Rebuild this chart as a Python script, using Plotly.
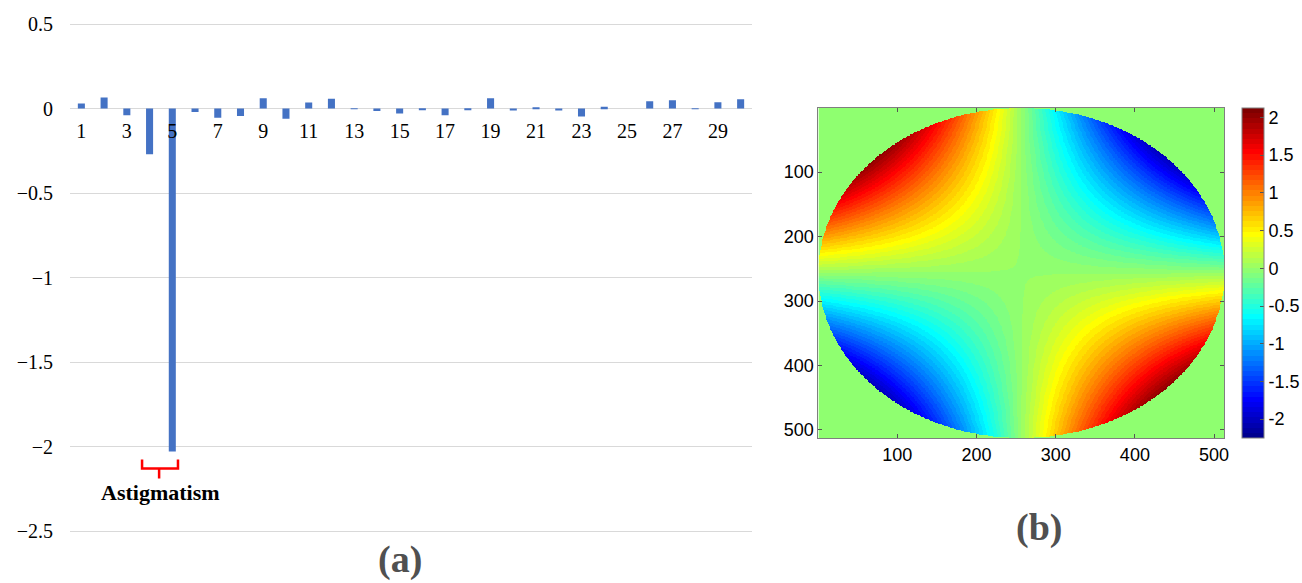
import numpy as np
import plotly.graph_objects as go

# Zernike fit coefficients, one bar per term
terms = list(range(1, 31))
coefficients = [0.03, 0.065, -0.04, -0.27, -2.03, -0.02, -0.055, -0.045, 0.06, -0.06,
                 0.035, 0.057, -0.002, -0.015, -0.03, -0.007, -0.04, -0.01, 0.06, -0.012,
                 0.008, -0.012, -0.048, 0.01, 0.0, 0.043, 0.049, -0.002, 0.037, 0.055]
term_ticks = list(range(1, 30, 2))
value_ticks = [-2.5, -2, -1.5, -1, -0.5, 0, 0.5]

# Wavefront map settings
pixels = 512
map_ticks = [100, 200, 300, 400, 500]
color_ticks = [-2, -1.5, -1, -0.5, 0, 0.5, 1, 1.5, 2]
color_tick_text = ["-2", "-1.5", "-1", "-0.5", "0", "0.5", "1", "1.5", "2"]
color_limits = (-2.25, 2.125)

W, H = 1302, 583


def px_x(p):
    return p / W


def px_y(p):
    return (H - p) / H


# --- wavefront of the dominant astigmatism term over the unit pupil ---
astig = coefficients[4]
idx = np.arange(1, pixels + 1)
centre = (pixels + 1) / 2
radius = pixels / 2
xn = (idx[None, :] - centre) / radius
yn = (centre - idx[:, None]) / radius
rho2 = xn ** 2 + yn ** 2
wavefront = np.where(rho2 <= 1.0, astig * 2 * xn * yn, 0.0)


# 64-level jet colormap, built the same way as MATLAB's jet(64)
def jet_colors(n=64):
    m = int(np.ceil(n / 4))
    u = np.concatenate([np.arange(1, m + 1) / m, np.ones(m - 1), np.arange(m, 0, -1) / m])
    g = int(np.ceil(m / 2)) - (1 if n % 4 == 1 else 0) + np.arange(1, len(u) + 1)
    r = g + m
    b = g - m
    cmap = np.zeros((n, 3))
    for chan, pos in ((0, r), (1, g), (2, b)):
        keep = (pos >= 1) & (pos <= n)
        cmap[pos[keep] - 1, chan] = u[keep]
    return cmap


cmap = jet_colors(64)
levels = len(cmap)
jet_scale = []
for i, (r, g, b) in enumerate(cmap):
    c = f"rgb({round(r * 255)},{round(g * 255)},{round(b * 255)})"
    jet_scale.append([i / levels, c])
    jet_scale.append([(i + 1) / levels, c])

fig = go.Figure()

fig.add_trace(go.Bar(
    x=terms, y=coefficients, width=0.31,
    marker=dict(color="#4472C4", line=dict(width=0)),
    xaxis="x", yaxis="y", showlegend=False,
))

fig.add_trace(go.Heatmap(
    z=wavefront, x=idx, y=idx, colorscale=jet_scale,
    zmin=color_limits[0], zmax=color_limits[1], zsmooth=False,
    xaxis="x2", yaxis="y2",
    colorbar=dict(
        x=px_x(1241.7), xanchor="left", xpad=0, ypad=0,
        y=px_y(273), yanchor="middle", len=330 / H, lenmode="fraction",
        thickness=22, thicknessmode="pixels",
        outlinecolor="#7f7f7f", outlinewidth=1,
        ticks="inside", ticklen=4, tickcolor="#555",
        tickvals=color_ticks, ticktext=color_tick_text,
        tickfont=dict(family="Liberation Sans", size=18, color="black"),
    ),
))

# value axis: 0.5 units per 84.5 px, padded slightly so both end gridlines show
ymin, ymax = -2.5, 0.5
pad = 0.01
px_per_unit = (531 - 24) / (ymax - ymin)
bar_dom_y = [px_y(531 + pad * px_per_unit), px_y(24 - pad * px_per_unit)]
zero_pos = bar_dom_y[0] + (0 - (ymin - pad)) / (ymax - ymin + 2 * pad) * (bar_dom_y[1] - bar_dom_y[0])

serif = "Liberation Serif"

fig.update_layout(
    width=W, height=H, margin=dict(l=0, r=0, t=0, b=0, autoexpand=False),
    paper_bgcolor="white", plot_bgcolor="white",
    xaxis=dict(
        domain=[px_x(70), px_x(752)], range=[0.5, 30.5],
        anchor="free", position=zero_pos,
        tickmode="array", tickvals=term_ticks,
        showgrid=False, zeroline=False, showline=False,
        ticks="", ticklabelstandoff=8,
        tickfont=dict(family=serif, size=20, color="black"),
    ),
    yaxis=dict(
        domain=bar_dom_y, range=[ymin - pad, ymax + pad],
        tickmode="array", tickvals=value_ticks,
        showgrid=True, gridcolor="#d9d9d9", gridwidth=1,
        zeroline=True, zerolinecolor="#d9d9d9", zerolinewidth=1,
        showline=False, ticks="", ticklabelstandoff=16,
        tickfont=dict(family=serif, size=20, color="black"),
    ),
    xaxis2=dict(
        domain=[px_x(818.4), px_x(1224)], range=[0.5, pixels + 0.5],
        anchor="y2", tickmode="array", tickvals=map_ticks,
        showgrid=False, zeroline=False,
        showline=True, linecolor="#7f7f7f", linewidth=1, mirror="ticks",
        ticks="inside", ticklen=4, tickcolor="#555",
        tickfont=dict(family="Liberation Sans", size=18, color="black"),
    ),
    yaxis2=dict(
        domain=[px_y(438), px_y(108)], range=[pixels + 0.5, 0.5],
        anchor="x2", tickmode="array", tickvals=map_ticks,
        showgrid=False, zeroline=False,
        showline=True, linecolor="#7f7f7f", linewidth=1, mirror="ticks",
        ticks="inside", ticklen=4, tickcolor="#555",
        tickfont=dict(family="Liberation Sans", size=18, color="black"),
    ),
)

# brace under the astigmatism pair (terms 4 and 5)
b_left, b_right, b_mid = 4 - 0.33, 5 + 0.25, 4.42
b_top, b_line, b_tip = -2.077, -2.13, -2.19
fig.add_shape(
    type="path", xref="x", yref="y",
    path=(f"M {b_left},{b_top} L {b_left},{b_line} L {b_right},{b_line} L {b_right},{b_top} "
          f"M {b_mid},{b_line} L {b_mid},{b_tip}"),
    line=dict(color="red", width=2.5),
)
fig.add_annotation(
    x=4.5, y=-2.27, xref="x", yref="y", text="<b>Astigmatism</b>", showarrow=False,
    xanchor="center", yanchor="middle",
    font=dict(family=serif, size=22, color="black"),
)
fig.add_annotation(
    x=px_x(400), y=0, xref="paper", yref="paper", text="<b>(a)</b>",
    showarrow=False, xanchor="center", yanchor="bottom",
    font=dict(family=serif, size=38, color="#505050"),
)
fig.add_annotation(
    x=px_x(1039), y=px_y(527), xref="paper", yref="paper", text="<b>(b)</b>",
    showarrow=False, xanchor="center", yanchor="middle",
    font=dict(family=serif, size=38, color="#505050"),
)

fig.write_html("out.html")
